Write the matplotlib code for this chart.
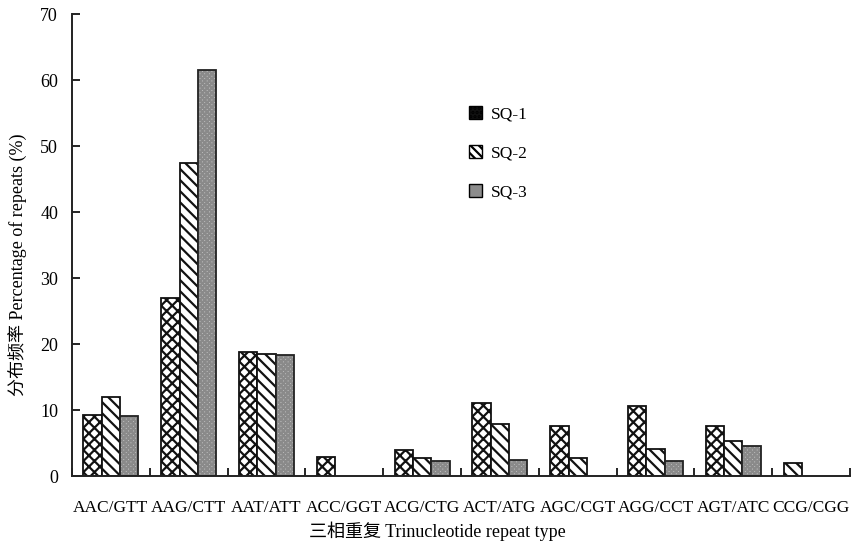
import numpy as np
import matplotlib
matplotlib.use('Agg')
import matplotlib.pyplot as plt
from matplotlib.patches import Patch

plt.rcParams['font.family'] = ['Liberation Serif', 'Noto Sans CJK SC']
plt.rcParams['hatch.linewidth'] = 1.6

# data (None = no bar)
categories = ['AAC/GTT', 'AAG/CTT', 'AAT/ATT', 'ACC/GGT', 'ACG/CTG',
              'ACT/ATG', 'AGC/CGT', 'AGG/CCT', 'AGT/ATC', 'CCG/CGG']
sq1 = [9.2, 27.0, 18.8, 2.9, 4.0, 11.0, 7.6, 10.6, 7.6, None]
sq2 = [11.9, 47.5, 18.5, None, 2.7, 7.9, 2.7, 4.1, 5.3, 2.0]
sq3 = [9.1, 61.5, 18.3, None, 2.3, 2.4, None, 2.3, 4.6, None]
series_names = ['SQ-1', 'SQ-2', 'SQ-3']

fig = plt.figure(figsize=(8.56, 5.45), dpi=100)
ax = fig.add_axes((0.0841, 0.1266, 0.9089, 0.8477))

w = 0.235
hatches = ['xxx', '\\\\\\', 'xxxxxxx']

allseries = [sq1, sq2, sq3]
for i in range(len(categories)):
    # bars with no value leave no gap: the rest shift left
    present = [s for s in range(3) if allseries[s][i] is not None]
    for k, s in enumerate(present):
        x = i + (k - 1) * w
        v = allseries[s][i]
        if s == 2:
            # gray fill with fine gray texture, black outline on top
            ax.bar(x, v, w, facecolor='#c0c0c0', edgecolor='#8a8a8a',
                   hatch=hatches[s], linewidth=0, zorder=2)
            ax.bar(x, v, w, fill=False, edgecolor='#222222', linewidth=1.3,
                   zorder=3)
        else:
            ax.bar(x, v, w, facecolor='white', edgecolor='#111111',
                   hatch=hatches[s], linewidth=1.3, zorder=2)

ax.set_xlim(-0.5, len(categories) - 0.5)
ax.set_ylim(0, 70)
ax.set_yticks(np.arange(0, 71, 10))
ax.set_xticks(np.arange(len(categories)))
ax.set_xticklabels(categories, fontsize=12.5)
ax.set_xticks(np.arange(-0.5, len(categories)), minor=True)
ax.tick_params(axis='x', which='major', length=0, pad=17)
ax.tick_params(axis='x', which='minor', direction='in', length=6, width=1.2)
ax.tick_params(axis='y', direction='in', length=6, width=1.2, labelsize=13,
               pad=10)

for sp in ['top', 'right']:
    ax.spines[sp].set_visible(False)
for sp in ['left', 'bottom']:
    ax.spines[sp].set_linewidth(1.4)
    ax.spines[sp].set_color('#222222')

ax.set_ylabel('分布频率 Percentage of repeats (%)', fontsize=13)
ax.yaxis.set_label_coords(-0.057, 0.457)
ax.set_xlabel('三相重复 Trinucleotide repeat type', fontsize=13)
ax.xaxis.set_label_coords(0.47, -0.098)

handles = [Patch(facecolor='#111111', edgecolor='black', hatch='....'),
           Patch(facecolor='white', edgecolor='black', hatch='\\\\\\\\'),
           Patch(facecolor='#8c8c8c', edgecolor='black')]
ax.legend(handles, series_names, loc='upper left', bbox_to_anchor=(0.51, 0.80),
          frameon=False, fontsize=12.5, handlelength=0.75, handleheight=0.75,
          handletextpad=0.5, labelspacing=1.3, borderpad=0, borderaxespad=0)

fig.savefig('out.png', dpi=100)
